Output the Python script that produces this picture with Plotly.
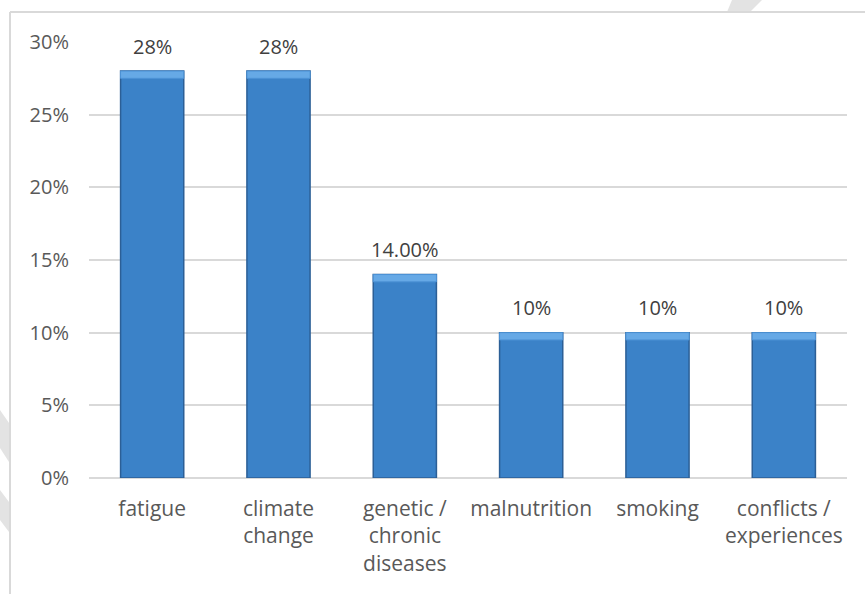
import plotly.graph_objects as go

categories = ["fatigue", "climate<br>change", "genetic /<br>chronic<br>diseases",
              "malnutrition", "smoking", "conflicts /<br>experiences"]
values = [0.28, 0.28, 0.14, 0.10, 0.10, 0.10]
labels = ["28%", "28%", "14.00%", "10%", "10%", "10%"]
y_ticks = [0, 0.05, 0.10, 0.15, 0.20, 0.25, 0.30]
y_tick_text = ["0%", "5%", "10%", "15%", "20%", "25%", "30%"]

W, H = 865, 594
L, R, T, B = 89, 18, 42, 116
PW, PH = W - L - R, H - T - B
FONT = "Open Sans"

def px(x):
    return (x - L) / PW

def py(y):
    return (H - B - y) / PH

bevel = 0.005

fig = go.Figure()
fig.add_trace(go.Bar(
    x=categories, y=values, width=0.5,
    marker=dict(color="#3b82c8", line=dict(color="#2c5f96", width=1.5)),
    hoverinfo="skip",
))
fig.add_trace(go.Bar(
    x=categories, y=[bevel] * len(values), base=[v - bevel for v in values], width=0.5,
    marker=dict(color="#66a9e6", line=dict(color="#4d93d6", width=1)),
    hoverinfo="skip",
))

annotations = []
for c, v, t in zip(categories, values, labels):
    annotations.append(dict(x=c, y=v, text=t, showarrow=False, yshift=25,
                            font=dict(family=FONT, size=20, color="#404040")))

shapes = [
    # chart frame
    dict(type="line", xref="paper", yref="paper", x0=px(10), y0=py(12), x1=px(866), y1=py(12),
         line=dict(color="#d9d9d9", width=2)),
    dict(type="line", xref="paper", yref="paper", x0=px(10), y0=py(12), x1=px(10), y1=py(596),
         line=dict(color="#d9d9d9", width=2)),
    # faint watermark fragments
    dict(type="path", xref="paper", yref="paper", layer="below",
         path=f"M {px(0)},{py(410)} L {px(9)},{py(423)} L {px(9)},{py(462)} L {px(0)},{py(448)} Z",
         fillcolor="#e3e3e3", line=dict(width=0)),
    dict(type="path", xref="paper", yref="paper", layer="below",
         path=f"M {px(0)},{py(490)} L {px(9)},{py(502)} L {px(9)},{py(532)} L {px(0)},{py(520)} Z",
         fillcolor="#e3e3e3", line=dict(width=0)),
    dict(type="path", xref="paper", yref="paper", layer="below",
         path=f"M {px(732)},{py(0)} L {px(762)},{py(0)} L {px(750)},{py(12)} L {px(727)},{py(12)} Z",
         fillcolor="#e3e3e3", line=dict(width=0)),
]

fig.update_layout(
    width=W, height=H,
    margin=dict(l=L, r=R, t=T, b=B),
    paper_bgcolor="white", plot_bgcolor="white",
    barmode="overlay", showlegend=False,
    font=dict(family=FONT, size=21, color="#595959"),
    annotations=annotations, shapes=shapes,
    xaxis=dict(showgrid=False, showline=False, zeroline=False, ticks="",
               ticklabelstandoff=16, tickfont=dict(family=FONT, size=21, color="#595959")),
    yaxis=dict(range=[0, 0.30], tickvals=y_ticks, ticktext=y_tick_text,
               showgrid=True, gridcolor="#d9d9d9", gridwidth=1.5,
               zeroline=True, zerolinecolor="#d9d9d9", zerolinewidth=1.5,
               showline=False, ticks="", ticklabelstandoff=19,
               tickfont=dict(family=FONT, size=20, color="#595959")),
)

fig.write_html("out.html",
               config={"displayModeBar": False},
               post_script="document.body.style.margin='0';document.body.style.overflow='hidden';")
